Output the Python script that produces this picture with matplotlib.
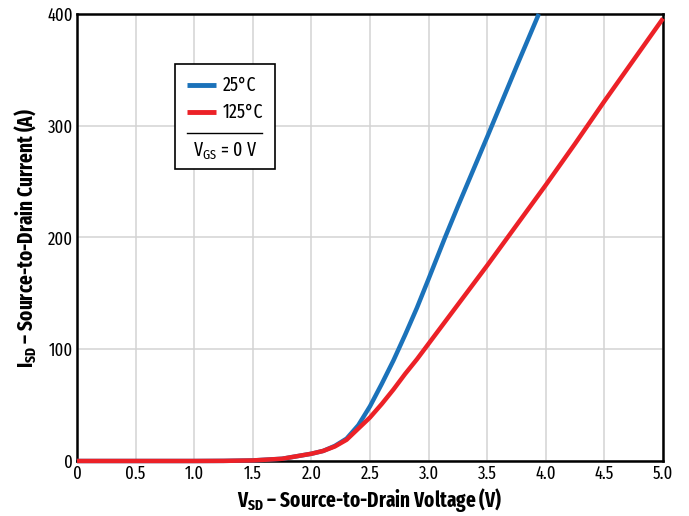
import matplotlib
matplotlib.use('Agg')
from matplotlib import pyplot as plt
from matplotlib.lines import Line2D
from matplotlib.patches import Rectangle

# Body diode forward characteristic
v_25 = [0, 0.5, 1.0, 1.25, 1.5, 1.75, 2.0, 2.1, 2.2, 2.3, 2.4, 2.5, 2.6, 2.7,
        2.8, 2.9, 3.0, 3.14, 3.25, 3.5, 3.75, 3.94]
i_25 = [0, 0, 0, 0.1, 0.5, 2, 6.5, 9, 13.5, 20, 32, 49, 69, 90,
        113, 137, 163, 200, 228, 290, 353, 400]

v_125 = [0, 0.5, 1.0, 1.25, 1.5, 1.75, 2.0, 2.1, 2.2, 2.3, 2.4, 2.5, 2.6, 2.7,
         2.8, 2.9, 3.0, 3.25, 3.5, 3.75, 4.0, 4.25, 4.5, 4.75, 5.0]
i_125 = [0, 0, 0, 0.1, 0.5, 2, 6.5, 9, 13, 19, 29, 39, 51, 64,
         78, 91, 105, 140, 175, 211, 247, 284, 322, 359, 396]

x_ticks = [0, 0.5, 1.0, 1.5, 2.0, 2.5, 3.0, 3.5, 4.0, 4.5, 5.0]
x_labels = ['0', '0.5', '1.0', '1.5', '2.0', '2.5', '3.0', '3.5', '4.0', '4.5', '5.0']
y_ticks = [0, 100, 200, 300, 400]

blue = '#1b72ba'
red = '#ec2127'
font = 'Fira Sans Extra Condensed'

plt.rcParams['font.family'] = [font, 'DejaVu Sans']
plt.rcParams['mathtext.fontset'] = 'custom'
plt.rcParams['mathtext.rm'] = font
plt.rcParams['mathtext.bf'] = font + ':bold'

fig = plt.figure(figsize=(6.89, 5.16), dpi=100)
ax = fig.add_axes([0.1118, 0.1066, 0.8505, 0.8663])

ax.plot(v_25, i_25, color=blue, lw=3.2, zorder=5, clip_on=False,
        solid_capstyle='butt', solid_joinstyle='round')
ax.plot(v_125, i_125, color=red, lw=3.2, zorder=6, clip_on=False,
        solid_capstyle='butt', solid_joinstyle='round')

ax.set_xlim(0, 5)
ax.set_ylim(0, 400)
ax.set_xticks(x_ticks)
ax.set_xticklabels(x_labels)
ax.set_yticks(y_ticks)
ax.tick_params(length=0, labelsize=13, pad=3)
ax.grid(True, color='#d3d3d3', lw=1.1)
ax.set_axisbelow(True)
for s in ax.spines.values():
    s.set_linewidth(1.8)
    s.set_color('black')

ax.set_xlabel(r'V$_{\mathbf{SD}}$ – Source-to-Drain Voltage (V)', fontsize=15,
              fontweight='bold', labelpad=2)
ax.set_ylabel(r'I$_{\mathbf{SD}}$ – Source-to-Drain Current (A)', fontsize=15,
              fontweight='bold', labelpad=6)

# hand-made legend box
ax.add_patch(Rectangle((0.167, 0.653), 0.171, 0.235, transform=ax.transAxes,
                       facecolor='white', edgecolor='black', lw=1.2, zorder=7))
ax.add_line(Line2D([0.188, 0.237], [0.841, 0.841], transform=ax.transAxes,
                   color=blue, lw=3.5, zorder=8, solid_capstyle='butt'))
ax.add_line(Line2D([0.188, 0.237], [0.781, 0.781], transform=ax.transAxes,
                   color=red, lw=3.5, zorder=8, solid_capstyle='butt'))
ax.text(0.249, 0.841, '25°C', transform=ax.transAxes, va='center', fontsize=14, zorder=8)
ax.text(0.249, 0.781, '125°C', transform=ax.transAxes, va='center', fontsize=14, zorder=8)
ax.add_line(Line2D([0.188, 0.316], [0.734, 0.734], transform=ax.transAxes,
                   color='black', lw=1.0, zorder=8))
ax.text(0.252, 0.692, r'V$_{\mathrm{GS}}$ = 0 V', transform=ax.transAxes,
        ha='center', va='center', fontsize=14, zorder=8)

plt.savefig('out.png', dpi=100)
